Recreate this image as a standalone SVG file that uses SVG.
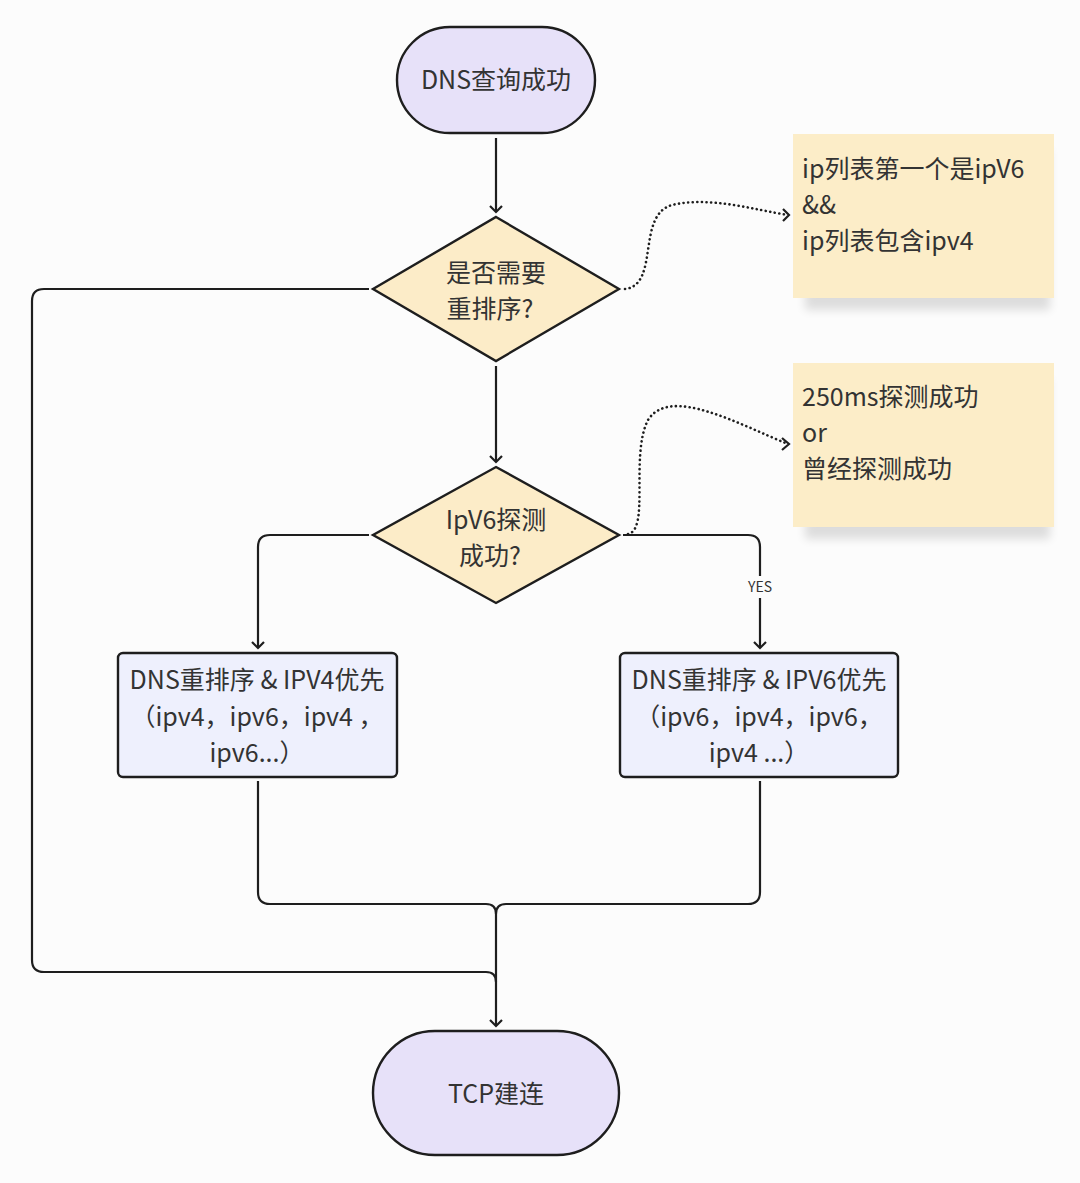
<svg xmlns="http://www.w3.org/2000/svg" width="1080" height="1183" viewBox="0 0 1080 1183">
<style>
text{font-family:"Noto Sans CJK SC","Noto Sans",sans-serif;fill:#333;}
.t{font-size:25px;text-anchor:middle;}
.n{font-size:25px;}
.term{fill:#e7e1f9;stroke:#1e1e1e;stroke-width:2.4;}
.dec{fill:#fcecc8;stroke:#1e1e1e;stroke-width:2.4;}
.box{fill:#eef0fd;stroke:#1e1e1e;stroke-width:2.4;}
.note{fill:#fcedc8;}
.ln{fill:none;stroke:#1e1e1e;stroke-width:2.2;}
.dot{fill:none;stroke:#1e1e1e;stroke-width:2.6;stroke-dasharray:0.1 4.5;stroke-linecap:round;}
</style>
<defs>
<marker id="arr" markerWidth="14" markerHeight="14" refX="7" refY="7" orient="auto" markerUnits="userSpaceOnUse">
<path d="M1,1 L7,7 L1,13" fill="none" stroke="#1e1e1e" stroke-width="2.2"/>
</marker>
<filter id="sh" x="-10%" y="-10%" width="120%" height="130%">
<feGaussianBlur stdDeviation="5"/>
</filter>
</defs>
<rect width="1080" height="1183" fill="#fcfcfc"/>

<g id="connectors">
<path class="ln" d="M496,138 V212" marker-end="url(#arr)"/>
<path class="ln" d="M496,366 V462" marker-end="url(#arr)"/>
<path class="ln" d="M369,535 H270 Q258,535 258,547 V648" marker-end="url(#arr)"/>
<path class="ln" d="M623,535 H748 Q760,535 760,547 V576 M760,598 V648" marker-end="url(#arr)"/>
<text x="760" y="592" style="font-size:14px;text-anchor:middle">YES</text>
<path class="ln" d="M258,781 V892 Q258,904 270,904 H486 Q496,904 496,914"/>
<path class="ln" d="M760,781 V892 Q760,904 748,904 H506 Q496,904 496,914"/>
<path class="ln" d="M369,289 H44 Q32,289 32,301 V960 Q32,972 44,972 H486 Q496,972 496,982"/>
<path class="ln" d="M496,914 V1026" marker-end="url(#arr)"/>
<path class="dot" d="M625,289 C660,285 636,215 672,205 C710,196 755,210 788,215"/>
<path class="ln" d="M783,209 L789,215 L783,221"/>
<path class="dot" d="M628,534 C650,530 630,455 648,420 C670,385 740,425 788,444"/>
<path class="ln" d="M782,438 L789,444 L782,450"/>
</g>

<g id="start">
<rect class="term" x="397" y="27" width="198" height="106" rx="53"/>
<text class="t" x="496" y="89">DNS查询成功</text>
</g>

<g id="decision1">
<polygon class="dec" points="496,217 619,289 496,361 373,289"/>
<text class="t" x="496" y="282">是否需要</text>
<text class="t" x="490" y="318">重排序?</text>
</g>

<g id="decision2">
<polygon class="dec" points="496,467 619,535 496,603 373,535"/>
<text class="t" x="496" y="529">IpV6探测</text>
<text class="t" x="490" y="565">成功?</text>
</g>

<g id="box-ipv4">
<rect class="box" x="118" y="653" width="279" height="124" rx="5"/>
<text class="t" x="257" y="689">DNS重排序 &amp; IPV4优先</text>
<text class="t" x="257" y="726">（ipv4，ipv6，ipv4 ，</text>
<text class="t" x="257" y="762">ipv6...）</text>
</g>

<g id="box-ipv6">
<rect class="box" x="620" y="653" width="278" height="124" rx="5"/>
<text class="t" x="759" y="689">DNS重排序 &amp; IPV6优先</text>
<text class="t" x="759" y="726">（ipv6，ipv4，ipv6，</text>
<text class="t" x="759" y="762">ipv4 ...）</text>
</g>

<g id="end">
<rect class="term" x="373" y="1031" width="246" height="124" rx="62"/>
<text class="t" x="496" y="1103">TCP建连</text>
</g>

<g id="note1">
<rect x="805" y="150" width="245" height="160" fill="#000" opacity="0.12" filter="url(#sh)"/>
<rect class="note" x="793" y="134" width="261" height="164"/>
<text class="n" x="802" y="178">ip列表第一个是ipV6</text>
<text class="n" x="802" y="214">&amp;&amp;</text>
<text class="n" x="802" y="250">ip列表包含ipv4</text>
</g>

<g id="note2">
<rect x="805" y="379" width="245" height="160" fill="#000" opacity="0.12" filter="url(#sh)"/>
<rect class="note" x="793" y="363" width="261" height="164"/>
<text class="n" x="802" y="406">250ms探测成功</text>
<text class="n" x="802" y="442">or</text>
<text class="n" x="802" y="478">曾经探测成功</text>
</g>
</svg>
